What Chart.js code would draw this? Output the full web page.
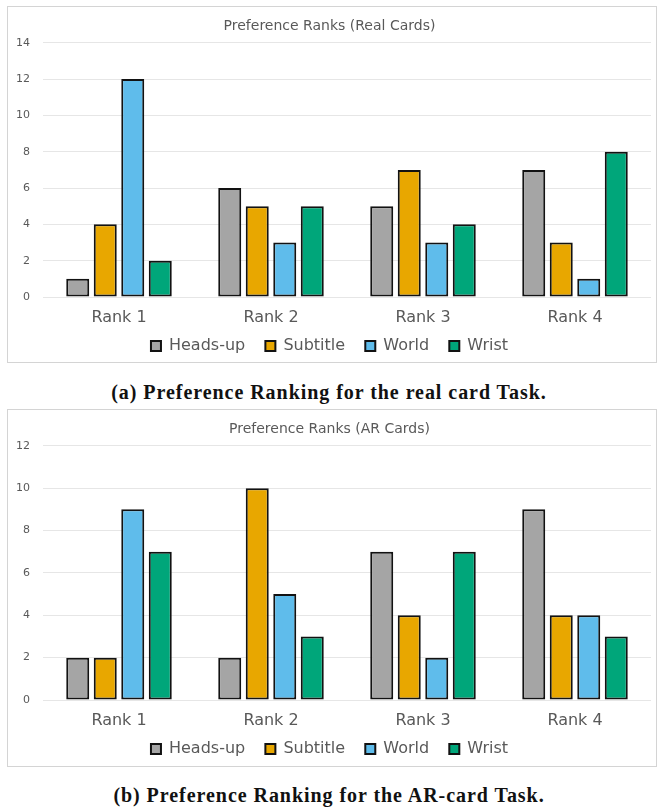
<!DOCTYPE html>
<html>
<head>
<meta charset="utf-8">
<script src="https://cdn.jsdelivr.net/npm/chart.js@4"></script>
<style>
  html, body { margin: 0; padding: 0; background: #fff; }
  body { width: 658px; height: 809px; position: relative; overflow: hidden; }
  .panel { position: absolute; left: 7px; width: 648px; border: 1px solid #D4D4D4; background: #fff; }
  #panelA { top: 6px; height: 355px; }
  #panelB { top: 409px; height: 356px; }
  .plot { position: absolute; left: 8px; width: 648px; height: 358px; }
  #plotA { top: 6px; }
  #plotB { top: 409px; }
  .caption { position: absolute; left: 0; width: 658px; text-align: center;
    font-family: "Liberation Serif", "DejaVu Serif", serif; font-weight: bold;
    font-size: 20px; letter-spacing: 0.95px; line-height: 24px; color: #111; }
  #capA { top: 380px; }
  #capB { top: 783px; }
</style>
</head>
<body>
<div class="panel" id="panelA"></div>
<div class="plot" id="plotA"><canvas id="chartA"></canvas></div>
<div class="caption" id="capA">(a) Preference Ranking for the real card Task.</div>
<div class="panel" id="panelB"></div>
<div class="plot" id="plotB"><canvas id="chartB"></canvas></div>
<div class="caption" id="capB">(b) Preference Ranking for the AR-card Task.</div>

<script>
// Rank categories and condition names
const categories = ['Rank 1', 'Rank 2', 'Rank 3', 'Rank 4'];
const conditions = ['Heads-up', 'Subtitle', 'World', 'Wrist'];

// Number of participants giving each rank, real card task
const realHeadsUp = [1, 6, 5, 7];
const realSubtitle = [4, 5, 7, 3];
const realWorld = [12, 3, 3, 1];
const realWrist = [2, 5, 4, 8];

// Number of participants giving each rank, AR card task
const arHeadsUp = [2, 2, 7, 9];
const arSubtitle = [2, 10, 4, 4];
const arWorld = [9, 5, 2, 4];
const arWrist = [7, 3, 7, 3];

// Value axis ranges
const realAxisMax = 14;
const arAxisMax = 12;
const axisStep = 2;

const fills = ['#A5A5A5', '#E8A700', '#5FBCEB', '#00A67A'];
const textGray = '#595959';

function buildChart(canvasId, titleText, seriesValues, axisMax) {
  const datasets = seriesValues.map((vals, i) => ({
    label: conditions[i],
    data: vals,
    backgroundColor: fills[i],
    borderColor: '#121212',
    borderWidth: 2,
    borderSkipped: false,
    categoryPercentage: 0.724,
    barPercentage: 0.836
  }));

  return new Chart(document.getElementById(canvasId), {
    type: 'bar',
    data: { labels: categories, datasets },
    options: {
      responsive: true,
      maintainAspectRatio: false,
      animation: false,
      layout: { padding: { left: 0, right: 5, top: 0, bottom: 0 } },
      plugins: {
        title: {
          display: true,
          text: titleText,
          color: textGray,
          font: { family: 'DejaVu Sans', size: 14, weight: 'normal' },
          padding: { top: 12, bottom: 8 }
        },
        legend: {
          position: 'bottom',
          labels: {
            color: textGray,
            font: { family: 'DejaVu Sans', size: 16 },
            boxWidth: 10,
            boxHeight: 10,
            padding: 10,
            generateLabels(chart) {
              const items = Chart.defaults.plugins.legend.labels.generateLabels(chart);
              items.forEach((it, i) => { if (i < items.length - 1) it.text = it.text + '  '; });
              return items;
            }
          }
        },
        tooltip: { enabled: false }
      },
      scales: {
        x: {
          grid: { display: false, drawTicks: false },
          border: { display: false },
          ticks: {
            color: textGray,
            font: { family: 'DejaVu Sans', size: 16 },
            padding: 11
          },
          afterFit(scale) { scale.height = 31; }
        },
        y: {
          min: 0,
          max: axisMax,
          grid: { color: '#E6E6E6', lineWidth: 1, drawTicks: false },
          border: { display: false },
          ticks: {
            stepSize: axisStep,
            color: textGray,
            font: { family: 'DejaVu Sans', size: 11 },
            padding: 13
          },
          afterFit(scale) { scale.width = 35; }
        }
      }
    }
  });
}

buildChart('chartA', 'Preference Ranks (Real Cards)',
  [realHeadsUp, realSubtitle, realWorld, realWrist], realAxisMax);
buildChart('chartB', 'Preference Ranks (AR Cards)',
  [arHeadsUp, arSubtitle, arWorld, arWrist], arAxisMax);
</script>
</body>
</html>
